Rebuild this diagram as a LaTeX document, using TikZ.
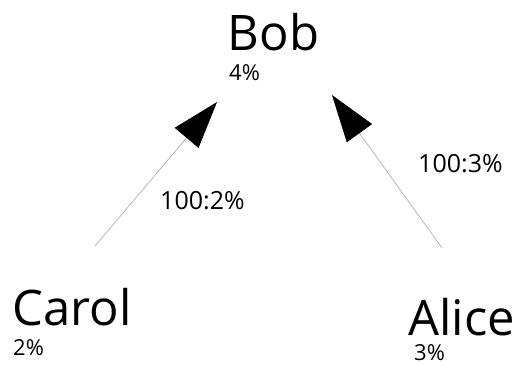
\documentclass[tikz,border=0pt]{standalone}
\usepackage{fontspec}
\setmainfont{Open Sans}
\usetikzlibrary{arrows.meta}
\begin{document}
\begin{tikzpicture}[x=1pt,y=-1pt,
  person/.style={anchor=base west,inner sep=0pt,text depth=0pt,font=\fontsize{49}{49}\selectfont},
  pct/.style={anchor=base west,inner sep=0pt,text depth=0pt,font=\fontsize{22}{22}\selectfont},
  lbl/.style={anchor=base west,inner sep=0pt,font=\fontsize{25}{25}\selectfont},
  edge/.style={draw=black!35,line width=0.6pt,-{Triangle[length=47pt,width=31pt,color=black]}}]
\useasboundingbox (0,0) rectangle (517,365);
\node[person] (bob) at (227.5,50) {Bob};
\node[pct] (bobp) at (229,80) {4\%};
\node[person] (carol) at (12.6,325) {Carol};
\node[pct] (carolp) at (13,355.5) {2\%};
\node[person] (alice) at (408,335) {Alice};
\node[pct] (alicep) at (414,360) {3\%};
\coordinate (c1) at (95,246);
\coordinate (b1) at (217,102);
\coordinate (a1) at (442,248);
\coordinate (b2) at (332,95);
\draw[edge] (c1) -- (b1);
\draw[edge] (a1) -- (b2);
\node[lbl] (l1) at (160,209) {100:2\%};
\node[lbl] (l2) at (418,172) {100:3\%};
\end{tikzpicture}
\end{document}
